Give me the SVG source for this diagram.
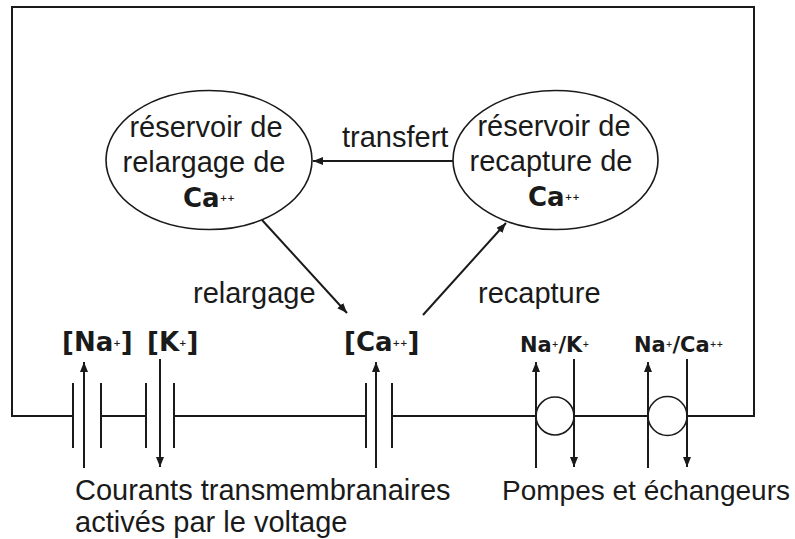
<svg xmlns="http://www.w3.org/2000/svg" width="795" height="539" viewBox="0 0 795 539">
<defs>
<style>
.ln{stroke:#1a1a1a;stroke-width:2;fill:none}
.el{stroke:#1a1a1a;stroke-width:1.6;fill:#fff}
.t{font-family:"Liberation Sans",Arial,sans-serif;font-size:29px;fill:#1a1a1a}
.b{font-family:"DejaVu Sans",sans-serif;font-size:26px;font-weight:bold;fill:#1a1a1a}
.s{font-family:"DejaVu Sans",sans-serif;font-size:21px;font-weight:bold;fill:#1a1a1a}
.sup{font-size:9px}
.sm{font-size:8px}
</style>
<marker id="ah" markerWidth="10" markerHeight="8" refX="10" refY="4" orient="auto" markerUnits="userSpaceOnUse">
<path d="M0,0 L10,4 L0,8 Z" fill="#1a1a1a"/>
</marker>
</defs>
<rect width="795" height="539" fill="#fff"/>
<g id="connectors">
<path class="ln" d="M73 416 H12 V7 H754 V416 H687"/>
<path class="ln" d="M101 416 H146 M174 416 H366 M392 416 H536 M574 416 H648"/>
<line class="ln" x1="453" y1="161" x2="313" y2="161" marker-end="url(#ah)"/>
<line class="ln" x1="262" y1="220" x2="347" y2="313" marker-end="url(#ah)"/>
<line class="ln" x1="423" y1="315" x2="506" y2="223" marker-end="url(#ah)"/>
</g>
<g id="reservoir-relargage">
<ellipse class="el" cx="209" cy="160" rx="103" ry="69.5"/>
<text class="t" x="206" y="137" text-anchor="middle">réservoir de</text>
<text class="t" x="204" y="172" text-anchor="middle">relargage de</text>
<text class="b" x="183" y="207">Ca<tspan class="sup" dy="-6">++</tspan></text>
</g>
<g id="reservoir-recapture">
<ellipse class="el" cx="555.5" cy="160" rx="102.5" ry="69.5"/>
<text class="t" x="554" y="136" text-anchor="middle">réservoir de</text>
<text class="t" x="551" y="171" text-anchor="middle">recapture de</text>
<text class="b" x="528" y="206">Ca<tspan class="sup" dy="-6">++</tspan></text>
</g>
<g id="labels">
<text class="t" x="342" y="147">transfert</text>
<text class="t" x="193" y="303">relargage</text>
<text class="t" x="478" y="303">recapture</text>
</g>
<g id="canal-na">
<path class="ln" d="M73 383 V448 M101 383 V448"/>
<line class="ln" x1="84" y1="468" x2="84" y2="362" marker-end="url(#ah)"/>
<text class="b" x="62" y="351">[Na<tspan class="sup" dy="-5">+</tspan><tspan dy="5">]</tspan></text>
</g>
<g id="canal-k">
<path class="ln" d="M146 383 V448 M174 383 V448"/>
<line class="ln" x1="160" y1="359" x2="160" y2="467" marker-end="url(#ah)"/>
<text class="b" x="147" y="351">[K<tspan class="sup" dy="-5">+</tspan><tspan dy="5">]</tspan></text>
</g>
<g id="canal-ca">
<path class="ln" d="M366 383 V448 M392 383 V448"/>
<line class="ln" x1="376" y1="468" x2="376" y2="362" marker-end="url(#ah)"/>
<text class="b" x="344" y="351">[Ca<tspan class="sup" dy="-5">++</tspan><tspan dy="5">]</tspan></text>
</g>
<g id="pompe-nak">
<circle class="el" cx="555" cy="416" r="19"/>
<line class="ln" x1="536" y1="468" x2="536" y2="362" marker-end="url(#ah)"/>
<line class="ln" x1="574" y1="359" x2="574" y2="467" marker-end="url(#ah)"/>
<text class="s" x="520" y="352">Na<tspan class="sm" dy="-5">+</tspan><tspan dy="5">/K</tspan><tspan class="sm" dy="-5">+</tspan></text>
</g>
<g id="echangeur-naca">
<circle class="el" cx="667.5" cy="416" r="19.5"/>
<line class="ln" x1="648" y1="468" x2="648" y2="362" marker-end="url(#ah)"/>
<line class="ln" x1="687" y1="359" x2="687" y2="467" marker-end="url(#ah)"/>
<text class="s" x="634" y="352">Na<tspan class="sm" dy="-5">+</tspan><tspan dy="5">/Ca</tspan><tspan class="sm" dy="-5">++</tspan></text>
</g>
<g id="legendes">
<text class="t" x="75" y="500">Courants transmembranaires</text>
<text class="t" x="75" y="532">activés par le voltage</text>
<text class="t" x="502" y="500" style="font-size:28px">Pompes et échangeurs</text>
</g>
</svg>
